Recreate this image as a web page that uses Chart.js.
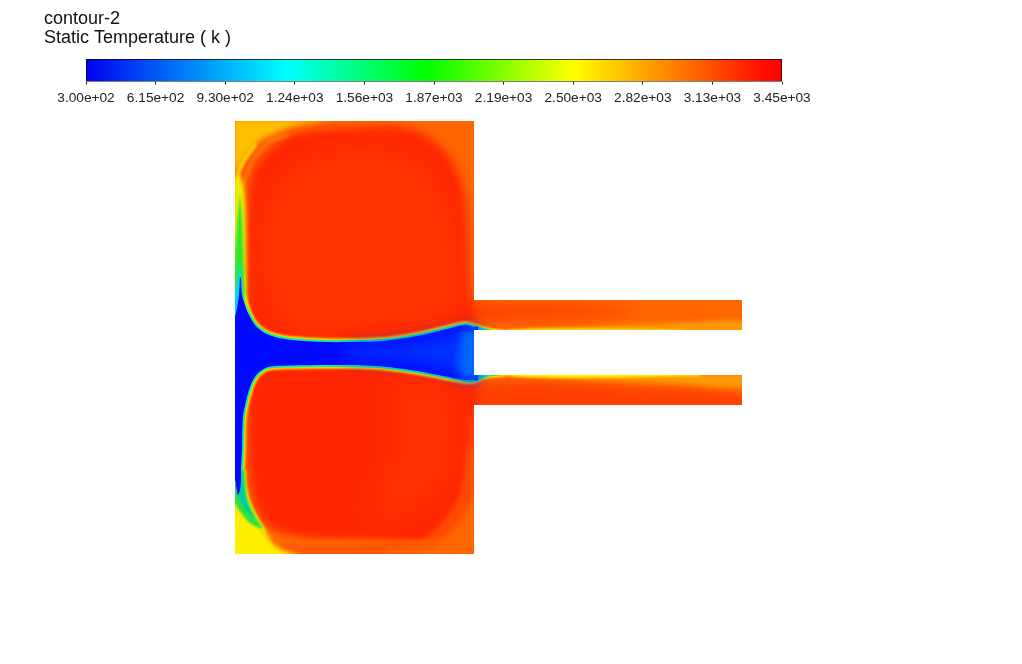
<!DOCTYPE html>
<html><head><meta charset="utf-8">
<style>html,body{margin:0;padding:0;background:#fff}canvas{position:absolute;display:block}</style>
<script src="https://cdn.jsdelivr.net/npm/chart.js@4"></script></head>
<body>
<canvas id="bar" width="978" height="111" style="left:44px;top:0"></canvas>
<canvas id="field" width="1022" height="552" style="left:0;top:112px"></canvas>
<script>
const titleLines = ['contour-2', 'Static Temperature ( k )'];
const tickValues = [300, 615, 930, 1245, 1560, 1875, 2190, 2505, 2820, 3135, 3450];
const tickLabels = ['3.00e+02','6.15e+02','9.30e+02','1.24e+03','1.56e+03','1.87e+03','2.19e+03','2.50e+03','2.82e+03','3.13e+03','3.45e+03'];
const rampColors = ['#0000f0','#00ffff','#00ff00','#ffff00','#ff1000','#ff0000'];
const rampStops = [0, 0.29, 0.49, 0.70, 0.97, 1];

// Contours, in model units: x from the left wall, y up from the jet centre line.
const domainOutline = [[0,232],[239,232],[239,53],[507,53],[507,23],[239,23],[239,-22],[507,-22],[507,-52],[239,-52],[239,-201],[0,-201],[0,232]];
const hotBlob = [[115,225],[165,226],[195,215],[215,195],[227,168],[231,138],[233,93],[235,58],[241,33],[241,-37],[238,-77],[237,-117],[232,-147],[215,-174],[190,-190],[115,-188],[65,-184],[40,-177],[23,-159],[15,-127],[13,-87],[12,53],[13,158],[17,178],[25,193],[37,206],[53,217],[80,223],[115,225]];
const upperCore = [[55,183],[115,203],[185,188],[215,133],[220,43],[165,28],[65,23],[35,53],[30,133],[55,183]];
const lowerCore = [[145,-30],[220,-35],[222,-115],[190,-155],[130,-170],[155,-90],[145,-30]];
const cornerBandTop = [[100,226],[65,226],[45,221],[28,210],[15,195],[8,178]];
const cornerArcTop = [[53,218],[33,210],[20,196],[12,180],[8,168]];
const cornerTopLeft = [[-2,234],[95,234],[60,227],[53,225],[23,211],[10,195],[3,185],[-2,175],[-2,234]];
const cornerYellowArc = [[20,208],[10,194],[4,182],[3,172]];
const lowerBand = [[50,-196],[85,-196],[120,-196],[150,-196]];
const lowerArc = [[32,-180],[40,-184],[57,-188],[77,-190],[120,-189],[165,-189],[190,-190]];
const lowerRightArc = [[190,-190],[208,-174],[225,-150],[232,-127],[235,-97]];
const wallYellowTop = [[-2,176],[4,176],[8,168],[10,153],[11,103],[11,53],[11,35],[-2,35],[-2,176]];
const wallGreenTop = [[5,160],[7,135],[8,110],[9,80],[9.5,55],[9,35],[-2,35],[-2,70],[0,100],[1.5,120],[3,140],[5,160]];
const wallCyanTop = [[5,91],[6.5,75],[7.5,58],[7.5,40],[-2,38],[-2,52],[1,66],[3,78],[5,91]];
const cornerBottomLeft = [[-2,-145],[5,-152],[15,-162],[27,-175],[32,-181],[37,-190],[47,-197],[65,-203],[-2,-203],[-2,-145]];
const wallYellowLow = [[11,-117],[11.5,-130],[15,-147],[23,-164],[31,-179],[27,-179],[-2,-152],[-2,-117],[11,-117]];
const wallGreenLow = [[9.5,-117],[10,-130],[12.5,-147],[19,-162],[27,-175],[15,-170],[5,-158],[0,-150],[-2,-147],[-2,-117],[9.5,-117]];
const wallCyanLow = [[8,-117],[8.5,-131],[10.5,-145],[15,-157],[19,-165],[11,-157],[5,-147],[0,-134],[-2,-131],[-2,-117],[8,-117]];
const jetUpperEdge = [[0,37],[1,40],[4,58],[5,76],[6,74],[7,58],[10,48],[14,38],[20,28],[28,21],[40,16],[57,13],[90,11],[115,11],[148,12],[182,17],[208,23],[230,28],[239,26]];
const jetChannelTurn = [[248,23],[258,21],[270,18],[277,3],[270,-19],[258,-21],[248,-23]];
const jetLowerEdge = [[238,-27],[230,-27],[208,-23],[182,-18],[148,-13.5],[115,-12],[90,-12],[57,-12.5],[33,-14],[23,-20],[17,-29],[12,-44],[8,-64],[7,-97],[6,-117],[6,-127],[5,-137],[3,-142],[1.5,-135],[0,-127],[-5,-127],[-5,37],[0,37]];
const jetOutline = [...jetUpperEdge, ...jetChannelTurn, ...jetLowerEdge];
const jetCore = [...jetUpperEdge, [243,26], [243,-27], ...jetLowerEdge];
const jetMid = [[110,6],[165,10],[215,19],[240,24],[240,-26],[215,-18],[165,-8],[110,-5],[110,6]];
const jetExit = [[226,21],[245,23],[245,-25],[226,-22],[226,21]];
const upperChannelCore = [[225,50],[300,49],[360,47],[400,40],[330,34],[270,31],[225,33],[225,50]];
const upperChannelAmber = [[270,22],[325,24.5],[385,28],[445,30],[510,32],[510,21],[270,22]];
const upperChannelYellow = [[255,22],[295,24.5],[365,24.5],[450,22.5],[450,20],[255,20],[255,22]];
const lowerChannelCore = [[225,-30],[300,-29],[380,-33],[510,-42],[510,-56],[225,-56],[225,-30]];
const lowerChannelAmber = [[265,-21],[325,-25],[385,-28],[445,-31],[510,-34],[510,-21],[265,-21]];
const lowerChannelYellow = [[255,-21],[285,-24],[345,-25],[425,-23.5],[465,-22.5],[465,-20],[255,-20],[255,-21]];

const area = (pts, color, blur) => ({pts, color, blur, fill: true});
const stroke = (pts, color, width, blur) => ({pts, color, width, blur, fill: false});
const layers = [
  {pts: domainOutline, color: '#ff6600', blur: 0, fill: true, straight: true},
  area(lowerChannelCore, '#ff4000', 4),
  area(upperChannelCore, '#ff4600', 6),
  area(hotBlob, '#ff2600', 5),
  area(upperCore, '#ff3600', 14),
  area(lowerCore, '#ff3000', 14),
  stroke(lowerBand, '#ff4c00', 6, 3),
  stroke(lowerRightArc, '#ff6800', 4, 3),
  stroke(lowerArc, '#ff6c00', 4, 2.5),
  stroke(cornerBandTop, '#ff4c00', 5, 2.5),
  stroke(cornerArcTop, '#ff7800', 3, 1.8),
  area(upperChannelAmber, '#ff9a00', 2.5),
  area(lowerChannelAmber, '#ff9a00', 2.5),
  area(upperChannelYellow, '#ffe000', 1),
  area(lowerChannelYellow, '#fff000', 1),
  area(cornerTopLeft, '#ffc000', 3),
  stroke(cornerYellowArc, '#ffe800', 3, 1.8),
  area(cornerBottomLeft, '#fff000', 2.5),
  stroke(jetOutline, '#ff9000', 8, 0.9),
  stroke(jetOutline, '#f8ff00', 5.5, 0.8),
  stroke(jetOutline, '#30f030', 4, 0.7),
  stroke(jetOutline, '#00e8e0', 2.5, 0.7),
  area(wallYellowTop, '#f0f000', 2),
  area(wallGreenTop, '#30e830', 1.2),
  area(wallCyanTop, '#00d8e0', 1.2),
  area(wallYellowLow, '#d8f000', 1.2),
  area(wallGreenLow, '#30e040', 1.2),
  area(wallCyanLow, '#00c8b0', 1.2),
  area(jetCore, '#0008ff', 0.7),
  area(jetMid, '#0030ff', 8),
  area(jetExit, '#0068ff', 4)
];

const fieldPlugin = {
  id: 'fieldClip',
  beforeDatasetsDraw(chart) {
    const {ctx, scales: {x, y}} = chart;
    ctx.save();
    ctx.beginPath();
    domainOutline.forEach(([px, py], i) => {
      const a = x.getPixelForValue(px), b = y.getPixelForValue(py);
      i ? ctx.lineTo(a, b) : ctx.moveTo(a, b);
    });
    ctx.closePath();
    ctx.clip();
    ctx.filter = 'none';
  },
  afterDatasetDraw(chart, args) {
    const next = layers[args.index + 1];
    chart.ctx.filter = next && next.blur ? `blur(${next.blur}px)` : 'none';
  },
  afterDatasetsDraw(chart) { chart.ctx.restore(); }
};

new Chart(document.getElementById('field'), {
  type: 'line',
  data: {datasets: layers.map((l, i) => ({
    data: l.pts.map(([x, y]) => ({x, y})),
    order: layers.length - i,
    fill: l.fill ? 'shape' : false,
    backgroundColor: l.fill ? l.color : 'transparent',
    borderColor: l.fill ? 'transparent' : l.color,
    borderWidth: l.fill ? 0 : l.width,
    borderCapStyle: 'round',
    borderJoinStyle: 'round',
    tension: l.straight ? 0 : 0.3,
    pointRadius: 0
  }))},
  options: {
    responsive: false, animation: false,
    layout: {padding: 0},
    events: [],
    plugins: {legend: {display: false}, tooltip: {enabled: false}},
    scales: {
      x: {type: 'linear', display: false, min: -235, max: 787},
      y: {type: 'linear', display: false, min: -311, max: 241}
    }
  },
  plugins: [fieldPlugin]
});

new Chart(document.getElementById('bar'), {
  type: 'bar',
  data: {labels: ['T'], datasets: [{
    data: [[tickValues[0], tickValues[tickValues.length - 1]]],
    backgroundColor(c) {
      const a = c.chart.chartArea;
      if (!a) return rampColors[0];
      const g = c.chart.ctx.createLinearGradient(a.left, 0, a.right, 0);
      rampColors.forEach((col, i) => g.addColorStop(rampStops[i], col));
      return g;
    },
    borderColor: '#000', borderWidth: 1, borderSkipped: false,
    barPercentage: 1, categoryPercentage: 1
  }]},
  options: {
    indexAxis: 'y', responsive: false, animation: false, events: [],
    layout: {padding: {left: 0, right: 240, top: 0, bottom: 0}},
    plugins: {
      legend: {display: false}, tooltip: {enabled: false},
      title: {display: true, text: titleLines, align: 'start', color: '#111',
        font: {family: '"Liberation Sans", Arial, sans-serif', size: 18, weight: 'normal', lineHeight: 1.03},
        padding: {top: 10, bottom: 12}}
    },
    scales: {
      x: {type: 'linear', min: 300, max: 3450,
        afterBuildTicks(s) { s.ticks = tickValues.map(value => ({value})); },
        grid: {drawOnChartArea: false, drawTicks: true, tickLength: 3, color: '#222'},
        border: {display: false},
        ticks: {autoSkip: false, maxRotation: 0, padding: 5, color: '#222',
          font: {family: '"Liberation Sans", Arial, sans-serif', size: 13.7},
          callback(v, i) { return tickLabels[i]; }}
      },
      y: {grid: {display: false}, border: {display: false}, ticks: {display: false},
        afterFit(s) { s.width = 42; }}
    }
  }
});
</script>
</body></html>
